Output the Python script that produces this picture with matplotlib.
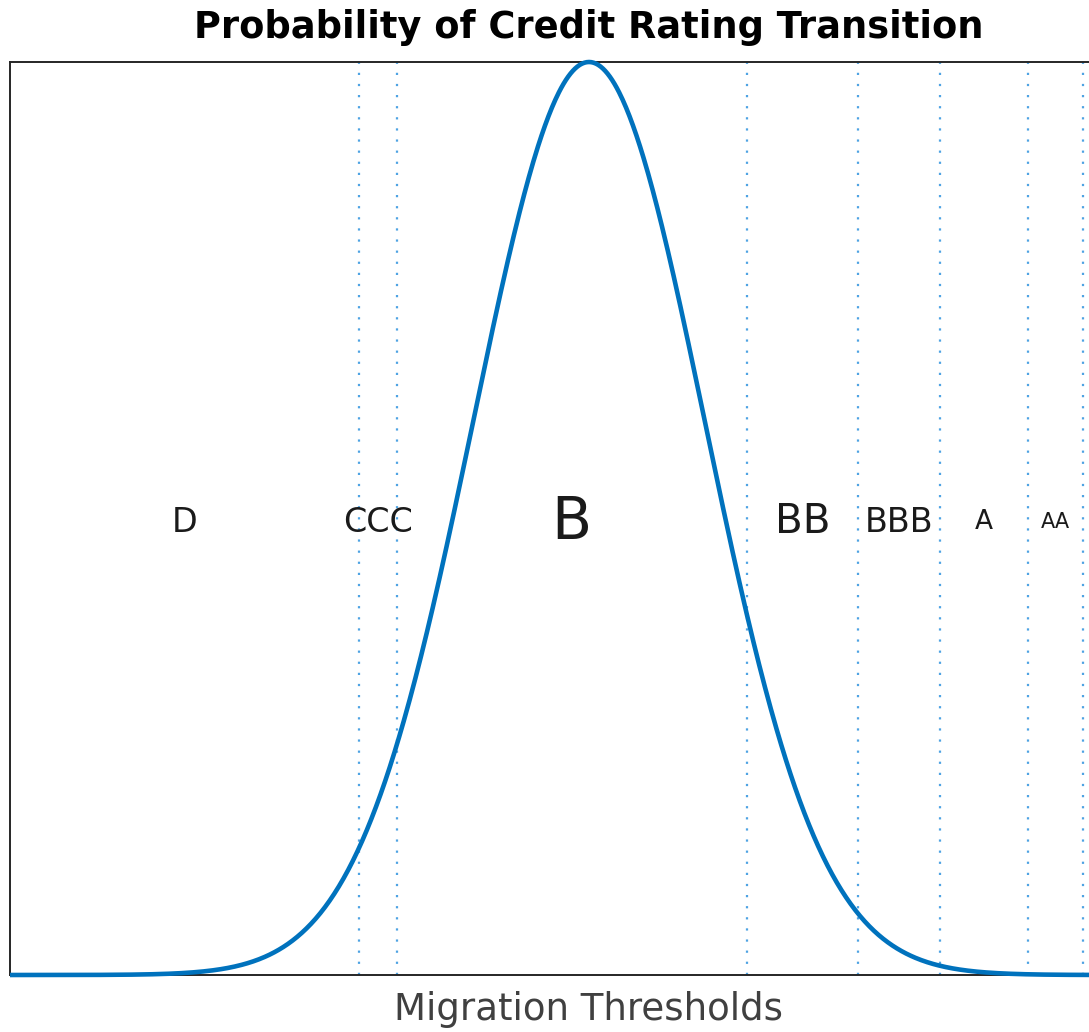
import numpy as np
import matplotlib
matplotlib.use("Agg")
import matplotlib.pyplot as plt

# Migration thresholds (standard normal z-values) for a B-rated issuer
thresholds = [-1.986, -1.662, 1.364, 2.323, 3.031, 3.791, 4.266]
ratings = ["D", "CCC", "B", "BB", "BBB", "A", "AA"]
label_sizes = [24, 24, 42, 29, 24, 19, 15]
x_range = [-5.0, 5.0]

fig = plt.figure(figsize=(10.89, 10.32), dpi=100)
W, H = 1089, 1032
ax = fig.add_axes([10 / W, (H - 975) / H, 1158 / W, 913 / H])

x = np.linspace(x_range[0], x_range[1], 1001)
pdf = np.exp(-x ** 2 / 2) / np.sqrt(2 * np.pi)
peak = pdf.max()

for t in thresholds:
    ax.axvline(t, color="#4ea3e3", linestyle=(0, (1, 4)), linewidth=1.6, zorder=1)

ax.plot(x, pdf, color="#0072BD", linewidth=3.3, zorder=3, clip_on=False,
        solid_capstyle="butt")

edges = [x_range[0]] + thresholds
for i, r in enumerate(ratings):
    mid = (edges[i] + edges[i + 1]) / 2
    ax.text(mid, 0.496 * peak, r, ha="center", va="center",
            fontsize=label_sizes[i], color="#1a1a1a", zorder=4)

ax.set_xlim(x_range)
ax.set_ylim(0, peak)
ax.set_xticks([])
ax.set_yticks([])
for s in ax.spines.values():
    s.set_color("#262626")
    s.set_linewidth(1.4)

ax.set_title("Probability of Credit Rating Transition", fontsize=26.5,
             fontweight="bold", color="black", pad=17, x=(589 - 10) / 1158)
ax.set_xlabel("Migration Thresholds", fontsize=26.7, color="#404040")
ax.xaxis.set_label_coords((589 - 10) / 1158, -(1020 - 975) / 913, transform=ax.transAxes)
ax.xaxis.label.set_va("baseline")

fig.savefig("out.png", dpi=100)
